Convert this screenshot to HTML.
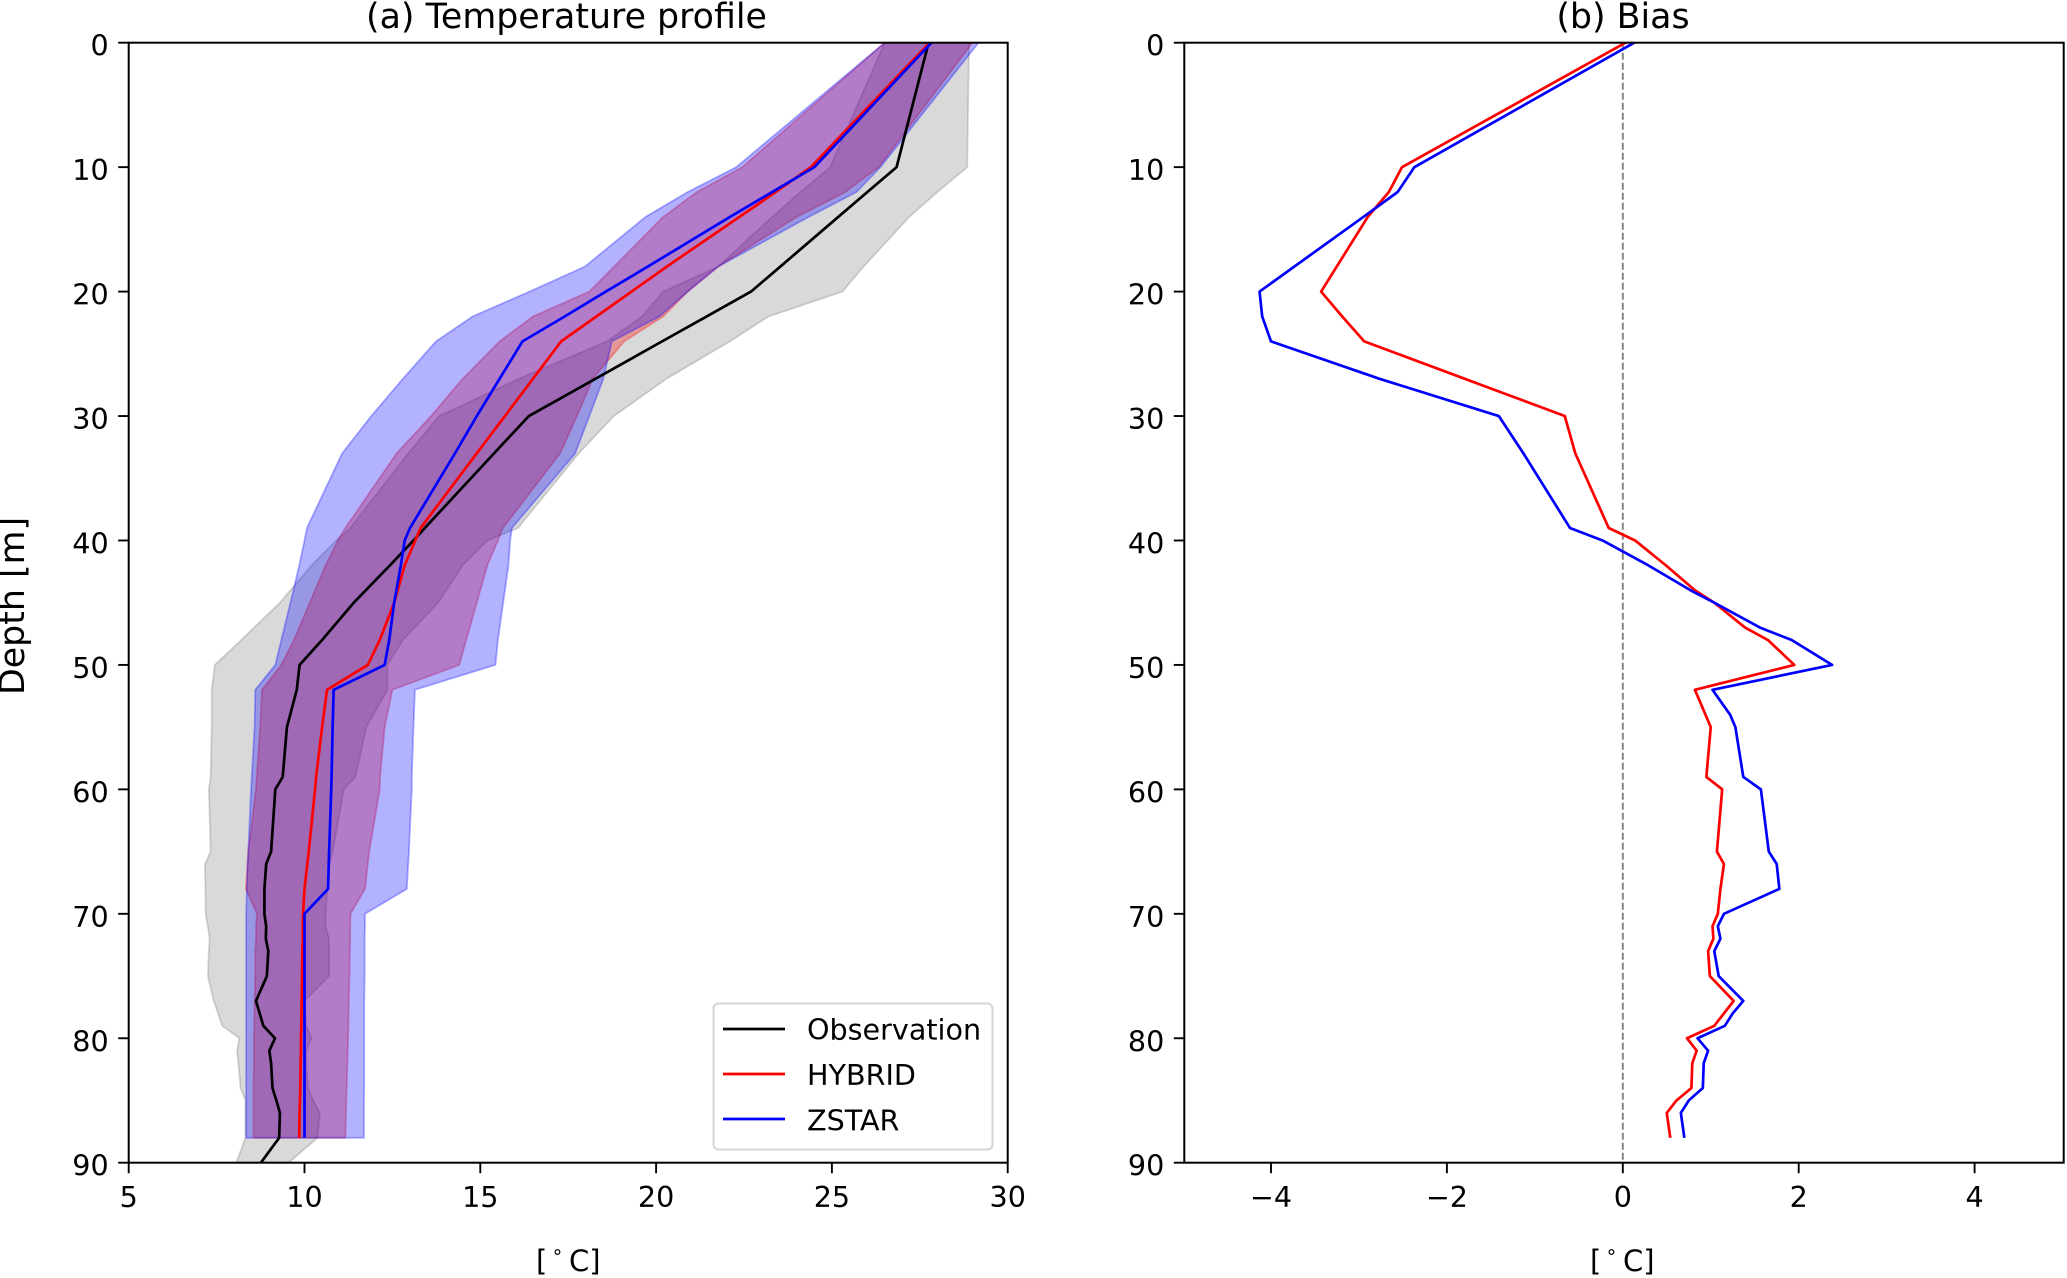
<!DOCTYPE html>
<html lang="en">
<head>
<meta charset="utf-8">
<title>Temperature profile and bias</title>
<style>
html,body{margin:0;padding:0;background:#fff;}
#figure{display:block;width:2067px;height:1278px;background:#fff;}
text{font-family:"DejaVu Sans","Liberation Sans",sans-serif;fill:#000;}
</style>
</head>
<body>
<svg id="figure" xmlns="http://www.w3.org/2000/svg" width="2067" height="1278" viewBox="0 0 2067 1278">
  <defs>
    <clipPath id="clip-a"><rect x="128.7" y="42.7" width="879" height="1120"/></clipPath>
    <clipPath id="clip-b"><rect x="1184.3" y="42.7" width="879.4" height="1120"/></clipPath>
  </defs>
  <g id="panel-a"></g>
  <g id="panel-b"></g>
  <g id="legend">
    <rect x="713.5" y="1003.5" width="279" height="146" rx="5" ry="5" fill="#fff" fill-opacity="0.8" stroke="#d6d6d6" stroke-width="2"/>
    <line x1="723" x2="785" y1="1029" y2="1029" stroke="#000" stroke-width="2.7"/>
    <text x="807" y="1039.5" font-size="28.6">Observation</text>
    <line x1="723" x2="785" y1="1074" y2="1074" stroke="#f00" stroke-width="2.7"/>
    <text x="807" y="1085" font-size="28.6">HYBRID</text>
    <line x1="723" x2="785" y1="1119" y2="1119" stroke="#00f" stroke-width="2.7"/>
    <text x="807" y="1130.5" font-size="28.6">ZSTAR</text>
  </g>
</svg>
<script>
// ---- Panel (a) data ----
var profileDepths = [0,10,12,14,18,20,22,24,27,30,33,39,40,42,45,48,50,52,55,59,60,65,66,68,70,71,72,73,75,77,79,80,81,82,84,85,86,88,90];
var obsMean = [27.75,26.84,26.01,25.18,23.53,22.7,21.44,20.17,18.28,16.38,15.39,13.42,13.1,12.43,11.4,10.5,9.86,9.78,9.5,9.38,9.17,9.05,8.91,8.86,8.86,8.91,8.9,8.97,8.93,8.62,8.83,9.16,9.0,9.05,9.09,9.2,9.3,9.28,8.76];
var obsLow = [26.5,24.95,24.1,23.3,21.76,20.2,19.6,18.6,16.1,13.83,12.95,11.3,10.9,10.2,9.3,8.2,7.45,7.36,7.36,7.33,7.28,7.33,7.17,7.18,7.19,7.25,7.3,7.28,7.25,7.42,7.66,8.15,8.08,8.12,8.18,8.32,8.32,8.32,8.06];
var obsHigh = [28.9,28.85,28.0,27.2,25.9,25.3,23.2,22.1,20.3,18.8,17.8,16.07,15.2,14.5,13.8,12.8,12.36,12.36,11.76,11.45,11.12,10.8,10.7,10.65,10.6,10.6,10.7,10.7,10.7,10.0,10.05,10.2,10.05,10.05,10.1,10.25,10.44,10.37,9.55];

var modelDepths = [0,10,12,14,18,20,22,24,27,30,33,39,40,42,45,48,50,52,55,59,60,65,66,68,70,71,72,73,75,77,79,80,81,82,84,85,86,88];
var hybridMean = [27.78,24.4,23.4,22.37,20.3,19.3,18.3,17.3,16.5,15.7,14.9,13.3,13.15,12.85,12.55,12.14,11.8,10.64,10.5,10.33,10.3,10.12,10.08,10.0,9.96,9.95,9.95,9.94,9.93,9.92,9.91,9.9,9.9,9.89,9.88,9.87,9.86,9.85];
var hybridLow = [26.5,22.45,21.16,20.2,18.8,18.1,16.5,15.55,14.5,13.6,12.62,11.16,10.95,10.6,10.15,9.7,9.34,8.79,8.74,8.64,8.62,8.4,8.38,8.33,8.65,8.62,8.62,8.6,8.6,8.58,8.57,8.56,8.56,8.56,8.55,8.55,8.55,8.55];
var hybridHigh = [29.0,26.33,25.38,24.0,21.76,20.9,20.2,19.09,18.2,17.75,17.27,15.64,15.5,15.2,14.9,14.6,14.4,12.5,12.28,12.15,12.14,11.84,11.8,11.72,11.31,11.3,11.3,11.29,11.28,11.26,11.25,11.24,11.23,11.22,11.2,11.19,11.18,11.16];
var zstarMean = [27.83,24.5,23.3,22.1,19.76,18.57,17.4,16.2,15.55,14.9,14.28,13.0,12.85,12.74,12.55,12.41,12.28,10.83,10.8,10.77,10.76,10.7,10.69,10.67,10.0,10.0,10.0,10.0,10.0,10.0,10.0,10.0,10.0,10.0,10.0,10.0,10.0,10.0];
var zstarLow = [26.5,22.28,20.9,19.7,17.97,16.4,14.78,13.74,12.8,11.9,11.07,10.07,10.0,9.85,9.6,9.34,9.17,8.6,8.58,8.5,8.48,8.4,8.38,8.36,8.34,8.34,8.34,8.34,8.34,8.34,8.34,8.34,8.34,8.34,8.34,8.34,8.34,8.34];
var zstarHigh = [29.17,26.38,25.7,24.34,21.76,20.9,20.1,18.74,18.5,18.1,17.7,15.9,15.85,15.8,15.65,15.5,15.43,13.14,13.1,13.05,13.05,12.97,12.95,12.91,11.72,11.72,11.71,11.71,11.71,11.7,11.7,11.7,11.7,11.7,11.7,11.69,11.69,11.69];

// ---- Panel (b) data ----
var biasDepths = [0,10,12,14,20,22,24,27,30,33,39,40,42,44,45,47,48,50,52,54,55,59,60,65,66,68,70,71,72,73,75,77,78,79,80,81,82,84,85,86,88];
var hybridBias = [0.03,-2.51,-2.66,-2.9,-3.43,-3.19,-2.94,-1.8,-0.66,-0.54,-0.16,0.14,0.49,0.82,1.04,1.39,1.65,1.95,0.82,0.94,1.0,0.95,1.13,1.07,1.15,1.11,1.08,1.02,1.03,0.97,0.99,1.26,1.15,1.04,0.73,0.84,0.79,0.78,0.61,0.5,0.54];
var zstarBias = [0.13,-2.37,-2.56,-2.95,-4.13,-4.1,-4.0,-2.77,-1.41,-1.13,-0.6,-0.23,0.29,0.77,1.04,1.56,1.92,2.38,1.02,1.22,1.28,1.37,1.57,1.66,1.75,1.78,1.15,1.08,1.11,1.04,1.09,1.37,1.25,1.16,0.85,0.97,0.92,0.91,0.75,0.66,0.7];

// ---- Tick labels ----
var depthTicks = [0,10,20,30,40,50,60,70,80,90];
var tempTicks = [5,10,15,20,25,30];
var biasTicks = [-4,-2,0,2,4];

var SVGNS = 'http://www.w3.org/2000/svg';
var TOP = 42.7, BOTTOM = 1162.7;
var A_LEFT = 128.7, A_RIGHT = 1007.7;
var B_FRAME_LEFT = 1184.3, B_FRAME_RIGHT = 2063.7;
var B_ZERO = 1622.8, B_UNIT = 87.95;

function yScale(d){ return TOP + (d / 90) * (BOTTOM - TOP); }
function xA(t){ return A_LEFT + ((t - 5) / 25) * (A_RIGHT - A_LEFT); }
function xB(b){ return B_ZERO + b * B_UNIT; }

function mk(tag, parent, attrs){
  var el = document.createElementNS(SVGNS, tag);
  for (var k in attrs) el.setAttribute(k, attrs[k]);
  parent.appendChild(el);
  return el;
}
function linePts(depths, vals, xf){
  return depths.map(function(d, i){ return xf(vals[i]).toFixed(2) + ',' + yScale(d).toFixed(2); }).join(' ');
}
function bandPts(depths, lo, hi, xf){
  var a = depths.map(function(d, i){ return xf(lo[i]).toFixed(2) + ',' + yScale(d).toFixed(2); });
  var b = depths.map(function(d, i){ return xf(hi[i]).toFixed(2) + ',' + yScale(d).toFixed(2); }).reverse();
  return a.concat(b).join(' ');
}
function band(parent, depths, lo, hi, color, alpha, name){
  var p = mk('polygon', parent, {points: bandPts(depths, lo, hi, xA), fill: color, 'fill-opacity': alpha, stroke: color, 'stroke-opacity': alpha, 'stroke-width': 1.8, 'stroke-linejoin': 'round'});
  
  
  return p;
}
function series(parent, depths, vals, xf, color, name){
  var p = mk('polyline', parent, {points: linePts(depths, vals, xf), fill: 'none', stroke: color, 'stroke-width': 2.7, 'stroke-linejoin': 'round'});
  
  
  return p;
}
function axesFrame(parent, left, right, cx, titleCx, xTicks, xf, xLabelFn, titleStr, xTitleName, titleName){
  var frame = mk('rect', parent, {x: left, y: TOP, width: right - left, height: BOTTOM - TOP, fill: 'none', stroke: '#000', 'stroke-width': 2});
  
  

  depthTicks.forEach(function(d){
    var y = yScale(d);
    var t = mk('line', parent, {x1: left - 10.5, x2: left, y1: y, y2: y, stroke: '#000', 'stroke-width': 1.9});
    
    
    var l = mk('text', parent, {x: left - 20, y: y + 13, 'font-size': 28.6, 'text-anchor': 'end'});
    l.textContent = String(d);
    
    
  });
  xTicks.forEach(function(v){
    var x = xf(v);
    var t = mk('line', parent, {x1: x, x2: x, y1: BOTTOM, y2: BOTTOM + 10.5, stroke: '#000', 'stroke-width': 1.9});
    
    
    var l = mk('text', parent, {x: x, y: 1207, 'font-size': 28.6, 'text-anchor': 'middle'});
    l.textContent = xLabelFn(v);
    
    
  });
  var ti = mk('text', parent, {x: titleCx, y: 28, 'font-size': 34.8, 'text-anchor': 'middle'});
  ti.textContent = titleStr;
  
  

  var xt = mk('text', parent, {x: cx - 33, y: 1271, 'font-size': 29});
  
  
  var s1 = mk('tspan', xt, {});
  s1.textContent = '[';
  var s2 = mk('tspan', xt, {x: cx - 17.5, dy: -13, 'font-size': 19});
  s2.textContent = '\u2218';
  var s3 = mk('tspan', xt, {x: cx, dy: 13});
  s3.textContent = 'C]';
}

// ---- Draw panel (a) ----
var panelA = document.getElementById('panel-a');
var plotA = mk('g', panelA, {'clip-path': 'url(#clip-a)'});


band(plotA, profileDepths, obsLow, obsHigh, '#000000', 0.15, 'observation-range-band');
band(plotA, modelDepths, hybridLow, hybridHigh, '#ff0000', 0.3, 'hybrid-range-band');
band(plotA, modelDepths, zstarLow, zstarHigh, '#0000ff', 0.3, 'zstar-range-band');
series(plotA, profileDepths, obsMean, xA, '#000', 'observation-line');
series(plotA, modelDepths, hybridMean, xA, '#f00', 'hybrid-line');
series(plotA, modelDepths, zstarMean, xA, '#00f', 'zstar-line');
axesFrame(panelA, A_LEFT, A_RIGHT, 569, 566.5, tempTicks, xA, function(v){ return String(v); }, '(a) Temperature profile', 'x-axis-title-temperature', 'temperature-panel-title');

var yTitle = mk('text', panelA, {x: 0, y: 0, 'font-size': 34.8, 'text-anchor': 'middle', transform: 'translate(24 606) rotate(-90)'});
yTitle.textContent = 'Depth [m]';



// ---- Draw panel (b) ----
var panelB = document.getElementById('panel-b');
var plotB = mk('g', panelB, {'clip-path': 'url(#clip-b)'});


var zero = mk('line', plotB, {x1: xB(0), x2: xB(0), y1: TOP, y2: BOTTOM, stroke: '#808080', 'stroke-width': 1.9, 'stroke-dasharray': '7 3'});


series(plotB, biasDepths, hybridBias, xB, '#f00', 'hybrid-bias-line');
series(plotB, biasDepths, zstarBias, xB, '#00f', 'zstar-bias-line');
axesFrame(panelB, B_FRAME_LEFT, B_FRAME_RIGHT, 1623, 1623, biasTicks, xB, function(v){ return v < 0 ? '\u2212' + Math.abs(v) : String(v); }, '(b) Bias', 'x-axis-title-bias', 'bias-panel-title');
</script>
</body>
</html>
